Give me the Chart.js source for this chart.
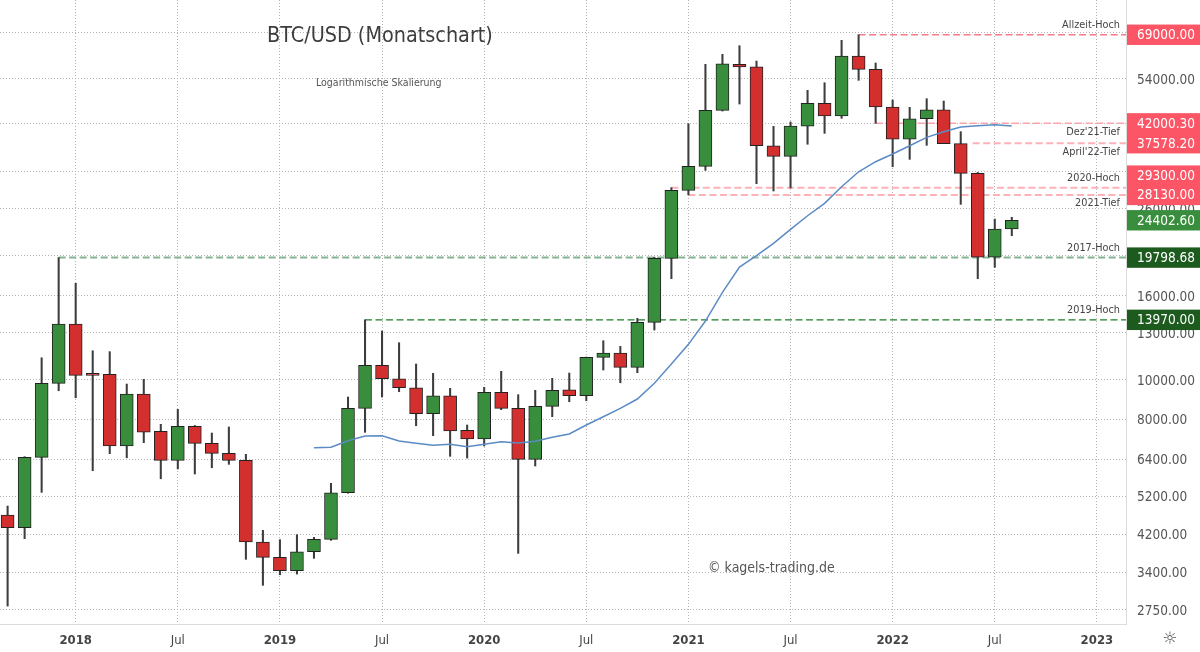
<!DOCTYPE html>
<html>
<head>
<meta charset="utf-8">
<title>BTC/USD (Monatschart)</title>
<script src="https://cdn.jsdelivr.net/npm/chart.js@4/dist/chart.umd.min.js"></script>
<style>
    html, body { margin: 0; padding: 0; background: #fff; }
    canvas { display: block; }
</style>
</head>
<body>
<canvas id="btcChart" width="1200" height="652"></canvas>
<script>
// months counted from Jan 2018 = 0
const monthIndex = [-4,-3,-2,-1,0,1,2,3,4,5,6,7,8,9,10,11,12,13,14,15,16,17,18,19,20,21,22,23,24,25,26,27,28,29,30,31,32,33,34,35,36,37,38,39,40,41,42,43,44,45,46,47,48,49,50,51,52,53,54,55];
const opens = [4680,4360,6466,9790,13650,10300,10300,6890,9220,7480,6360,7695,6995,6613,6360,4024,3693,3426,3811,4085,5304,8510,10828,10045,9551,8256,9132,7520,7165,9308,8510,6395,8606,9445,9132,11325,11600,10707,13775,19720,28860,33000,45180,58500,57660,37050,34900,41370,46980,43760,61240,56850,46030,38420,43100,45330,37500,31750,19860,23240];
const highs = [4922,6490,11298,19798.68,17140,11750,11690,9750,10010,7780,8460,7730,7410,7665,6577,4296,4077,4193,4130,5590,9066,13970,13122,12290,10907,10353,9520,7750,9572,10470,9185,9413,10067,10370,11340,12427,12040,14090,19850,29300,41900,58460,61840,64890,59540,41300,42320,50540,52740,66870,69000,58900,47880,45950,48220,47600,40090,31900,24570,24810];
const lows = [2811,4100,5315,9392,9030,6000,6600,6450,7020,5735,6060,5890,6100,6218,3652,3157,3350,3363,3672,4062,5290,7440,9066,9340,7720,7300,6503,6440,6890,8445,3776,6160,8120,8830,8880,10547,9820,10388,13195,17590,28130,32280,45000,46800,29950,28750,29240,37360,39720,43200,53450,42000.3,32940,34330,37140,37500,26680,17590,18750,22380];
const closes = [4360,6466,9790,13650,10238,10238,6890,9220,7450,6360,7695,6995,6613,6360,4024,3693,3426,3811,4085,5304,8510,10828,10045,9551,8256,9132,7494,7165,9308,8510,6395,8606,9413,9132,11325,11600,10707,13775,19720,28860,33000,45180,58650,57660,37050,34900,41370,46980,43760,61240,56850,46030,38420,43100,45330,37470,31750,19860,23240,24402.6];

// moving average, starts at month 14 (Mar 2019)
const maMonths = monthIndex.slice(18);
const maValues = [6825,6840,7097,7287,7300,7085,6995,6917,6956,6863,6956,7057,7007,7074,7234,7369,7750,8119,8510,8965,9790,10907,12180,13878,16300,18780,20030,21450,23200,25030,26830,29450,32030,33880,35370,37050,38840,40080,41150,41450,41680,41380];

const yTicks = [2750,3400,4200,5200,6400,8000,10000,13000,16000,20000,26000,32000,42000,54000,70000];
const xTicks = [0,6,12,18,24,30,36,42,48,54,60];
const xTickLabels = ['2018','Jul','2019','Jul','2020','Jul','2021','Jul','2022','Jul','2023'];

// horizontal levels with price tags on the axis
const levelValues = [69000,42000.30,37578.20,29300,28130,19798.68,13970];
const levelStarts = [46,47,52.7,35,36,-1,17];
const levelNames = ['Allzeit-Hoch',"Dez'21-Tief","April'22-Tief",'2020-Hoch','2021-Tief','2017-Hoch','2019-Hoch'];
const levelLineColors = ['#f77a86','#fca3ab','#ffb1b8','#ffb1b8','#ffb1b8','#85b291','#1f7d28'];
const levelLineWidths = [1.3,1.5,2,2,2,2,1.3];
const levelTagColors = ['#fc5566','#fc5566','#fc5566','#fc5566','#fc5566','#1c5a1e','#1c5a1e'];
const levelTagShift = [0,0,0,-12,0,0,0];
const levelNameShift = [-10,8.5,8.5,-9.5,8.5,-9.5,-9.5];
const lastPrice = 24402.60;

const font = '"DejaVu Sans Condensed", "DejaVu Sans", sans-serif';
const red = '#d32f2f';
const green = '#388e3c';

const wickData = monthIndex.map((m, i) => ({ x: m, y: [lows[i], highs[i]] }));
const bodyData = monthIndex.map((m, i) => ({ x: m, y: [opens[i], closes[i]] }));
const bodyColors = monthIndex.map((m, i) => closes[i] >= opens[i] ? green : red);

const levelDatasets = levelValues.map((value, i) => ({
    type: 'line',
    data: [{ x: levelStarts[i], y: value }, { x: 61.71, y: value }],
    borderColor: levelLineColors[i],
    borderWidth: levelLineWidths[i],
    borderDash: [7, 3.5],
    pointRadius: 0,
    order: 3
}));

const axisTags = {
    id: 'axisTags',
    afterDraw(chart) {
        const ctx = chart.ctx;
        const y = chart.scales.y;
        const drawTag = (value, shift, color) => {
            const cy = y.getPixelForValue(value) + shift;
            ctx.fillStyle = color;
            ctx.fillRect(1127, cy - 10.2, 73, 20.4);
            ctx.fillStyle = '#fff';
            ctx.font = '13.5px ' + font;
            ctx.textAlign = 'left';
            ctx.textBaseline = 'middle';
            ctx.fillText(value.toFixed(2), 1137, cy + 1);
        };
        ctx.save();
        levelValues.forEach((value, i) => {
            drawTag(value, levelTagShift[i], levelTagColors[i]);
            ctx.fillStyle = '#444';
            ctx.font = '10.8px ' + font;
            ctx.textAlign = 'right';
            ctx.textBaseline = 'middle';
            ctx.fillText(levelNames[i], 1120, y.getPixelForValue(value) + levelNameShift[i]);
        });
        drawTag(lastPrice, 0, green);

        ctx.textAlign = 'left';
        ctx.textBaseline = 'middle';
        ctx.fillStyle = '#3d3d3d';
        ctx.font = '21.4px ' + font;
        ctx.fillText('BTC/USD (Monatschart)', 267, 36);
        ctx.fillStyle = '#555';
        ctx.font = '10.5px ' + font;
        ctx.fillText('Logarithmische Skalierung', 316, 83);
        ctx.font = '14px ' + font;
        ctx.fillText('© kagels-trading.de', 708, 568);
        ctx.fillStyle = '#555';
        ctx.font = '17px "DejaVu Sans", sans-serif';
        ctx.textAlign = 'center';
        ctx.fillText('☼', 1170, 640);
        ctx.restore();
    }
};

new Chart(document.getElementById('btcChart'), {
    type: 'bar',
    data: {
        datasets: [
            {
                label: 'Wicks',
                data: wickData,
                backgroundColor: '#3d3d3d',
                barThickness: 1.4,
                grouped: false,
                order: 2
            },
            {
                label: 'Candles',
                data: bodyData,
                backgroundColor: bodyColors,
                borderColor: '#222',
                borderWidth: 1,
                borderSkipped: false,
                barThickness: 13,
                minBarLength: 2,
                grouped: false,
                order: 1
            },
            {
                type: 'line',
                label: 'MA',
                data: maMonths.map((m, i) => ({ x: m, y: maValues[i] })),
                borderColor: '#5b8bc4',
                borderWidth: 1.5,
                pointRadius: 0,
                order: 0
            },
            ...levelDatasets
        ]
    },
    options: {
        responsive: false,
        animation: false,
        devicePixelRatio: 1,
        layout: { padding: 0 },
        plugins: { legend: { display: false }, tooltip: { enabled: false } },
        scales: {
            x: {
                type: 'linear',
                offset: false,
                min: -4.447,
                max: 61.71,
                afterBuildTicks: axis => { axis.ticks = xTicks.map(v => ({ value: v })); },
                afterFit: axis => { axis.height = 28; axis.paddingLeft = 0; axis.paddingRight = 0; },
                border: { color: '#dcdcdc', dash: [1, 2] },
                grid: { color: '#b5b5b5', drawTicks: false, offset: false },
                ticks: {
                    autoSkip: false,
                    maxRotation: 0,
                    padding: 9,
                    color: '#444',
                    callback: v => xTickLabels[xTicks.indexOf(v)],
                    font: ctx => ({
                        family: font,
                        size: 13,
                        weight: xTicks.indexOf(ctx.tick ? ctx.tick.value : -1) % 2 === 0 ? 'bold' : 'normal'
                    })
                }
            },
            y: {
                type: 'logarithmic',
                position: 'right',
                min: 2542,
                max: 83830,
                afterBuildTicks: axis => { axis.ticks = yTicks.map(v => ({ value: v })); },
                afterFit: axis => { axis.width = 74; axis.paddingTop = 0; axis.paddingBottom = 0; },
                border: { color: '#dcdcdc', dash: [1, 2] },
                grid: { color: '#b5b5b5', drawTicks: false },
                ticks: {
                    autoSkip: false,
                    padding: 11,
                    crossAlign: 'near',
                    color: '#555',
                    // empty first line + small line height nudges the label 1.5px down
                    font: { family: font, size: 13.5, lineHeight: '3px' },
                    callback: v => ['', v.toFixed(2)]
                }
            }
        }
    },
    plugins: [axisTags]
});
</script>
</body>
</html>
